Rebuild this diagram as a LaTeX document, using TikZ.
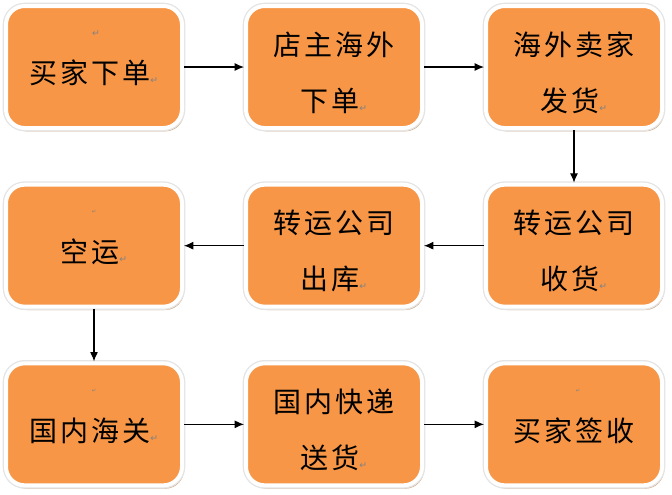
\documentclass[tikz,border=0pt]{standalone}
\usepackage{fontspec}
\usepackage{tikz}
\usetikzlibrary{positioning, shadows, arrows.meta}
\newfontfamily\cjk[LetterSpace=10]{Noto Sans CJK SC}
\newfontfamily\markfont{DejaVu Sans}
\definecolor{boxOrange}{RGB}{247, 150, 70}
\definecolor{boxShade}{RGB}{212, 168, 128}
\definecolor{boxRim}{RGB}{228, 228, 228}
\definecolor{markGray}{RGB}{130, 130, 130}
\newcommand{\pmark}{{\markfont\fontsize{7}{7}\selectfont\color{markGray}↵}}

\begin{document}
\begin{tikzpicture}[x=0.75pt, y=0.75pt,
    flowbox/.style={rounded corners=14pt, fill=boxOrange, draw=white, line width=3pt,
      minimum width=132pt, minimum height=91.5pt, inner sep=0pt, align=center,
      text height=27pt, font=\cjk\fontsize{21}{42}\selectfont,
      drop shadow={shadow xshift=1.5pt, shadow yshift=-2.5pt, fill=boxShade, opacity=1},
      preaction={draw=boxRim, line width=5pt}},
    twoline/.style={text height=68pt},
    flow/.style={-{Latex[length=7pt, width=6pt]}, line width=0.8pt},
    tinymark/.style={font=\markfont\fontsize{4}{4}\selectfont, text=markGray, inner sep=0pt},
    node distance=39.5pt and 45pt]
  \useasboundingbox (0,0) rectangle (672,-494);

  % first row, left to right
  \node[flowbox] (buy) at (94,-67) {买家下单\pmark};
  \node[flowbox, twoline, right=of buy] (order) {店主海外\\下单\pmark};
  \node[flowbox, twoline, right=of order] (ship) {海外卖家\\发货\pmark};
  % second row, right to left
  \node[flowbox, twoline, below=of ship] (recv) {转运公司\\收货\pmark};
  \node[flowbox, twoline, left=of recv] (out) {转运公司\\出库\pmark};
  \node[flowbox, left=of out] (air) {空运\pmark};
  % third row
  \node[flowbox, below=of air] (customs) {国内海关\pmark};
  \node[flowbox, twoline, right=of customs] (deliver) {国内快递\\送货\pmark};
  \node[flowbox, right=of deliver] (sign) {买家签收};

  % empty paragraph marks
  \node[inner sep=0pt] (buymark) at ([xshift=1.5pt, yshift=-22pt]buy.north) {\pmark};
  \node[tinymark] (airmark) at ([yshift=-22pt]air.north) {↵};
  \node[tinymark] (customsmark) at ([yshift=-22pt]customs.north) {↵};
  \node[tinymark] (signmark) at ([xshift=3pt, yshift=-22pt]sign.north) {↵};

  \draw[flow] (buy) -- (order);
  \draw[flow] (order) -- (ship);
  \draw[flow] (ship) -- (recv);
  \draw[flow] (recv) -- (out);
  \draw[flow] (out) -- (air);
  \draw[flow] (air) -- (customs);
  \draw[flow] (customs) -- (deliver);
  \draw[flow] (deliver) -- (sign);
\end{tikzpicture}
\end{document}
